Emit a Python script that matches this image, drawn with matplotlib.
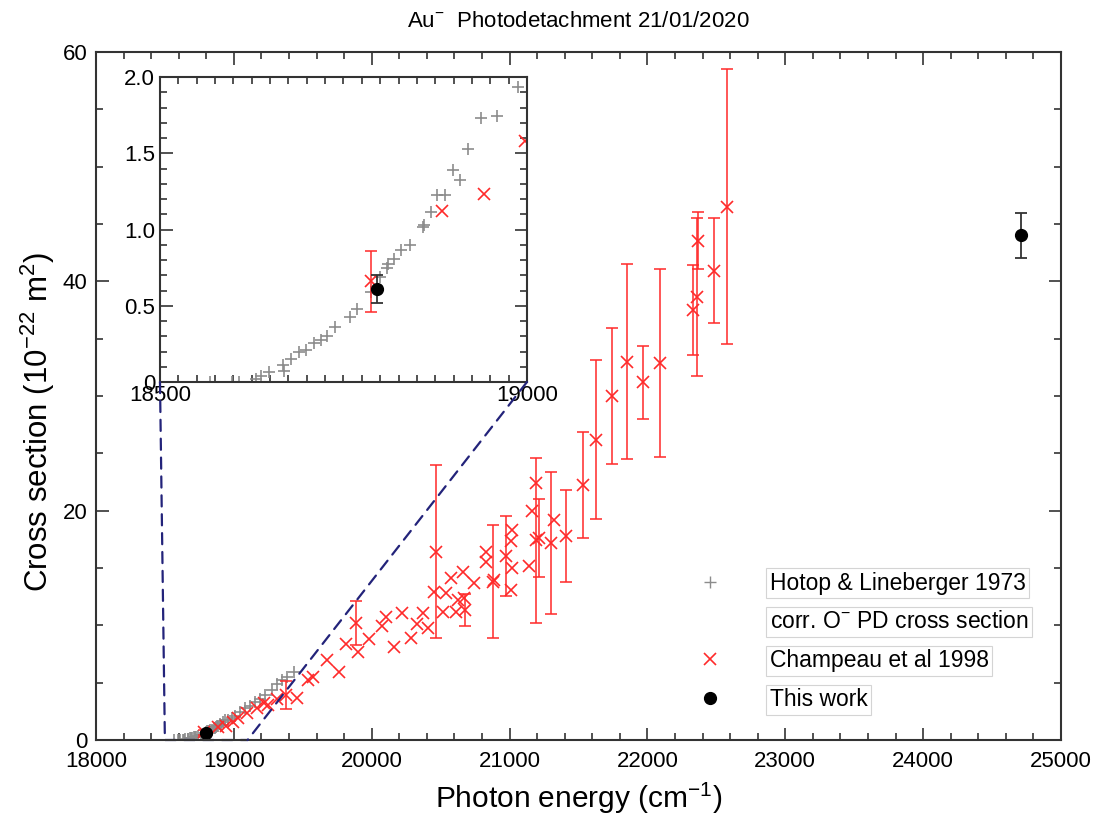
import numpy as np
import matplotlib
matplotlib.use("Agg")
import matplotlib.pyplot as plt
from matplotlib.lines import Line2D
from matplotlib.patches import ConnectionPatch
from matplotlib.ticker import MultipleLocator, FixedLocator

plt.rcParams["font.family"] = ["Liberation Sans", "DejaVu Sans"]
plt.rcParams["mathtext.default"] = "regular"

# Hotop & Lineberger 1973 (corr. O- PD cross section)
hl_energy = [18568, 18598, 18607, 18631, 18638, 18649, 18668, 18669, 18679, 18690,
             18699, 18710, 18719, 18728, 18738, 18759, 18769, 18788, 18800, 18809,
             18810, 18819, 18829, 18840, 18859, 18860, 18869, 18878, 18888, 18899,
             18909, 18919, 18938, 18959, 18988, 19011, 19047, 19084, 19120, 19156,
             19193, 19229, 19278, 19314, 19350, 19387, 19435]
hl_sigma = [0.0, 0.0, 0.0, 0.018, 0.039, 0.068, 0.111, 0.072, 0.149, 0.199,
            0.21, 0.258, 0.275, 0.302, 0.363, 0.428, 0.476, 0.592, 0.690, 0.745,
            0.773, 0.804, 0.866, 0.898, 1.018, 1.03, 1.116, 1.226, 1.226, 1.39,
            1.325, 1.528, 1.734, 1.747, 1.936, 2.05, 2.4, 2.75, 3.0, 3.3,
            3.6, 3.95, 4.4, 4.9, 5.2, 5.5, 5.95]

# Champeau et al 1998 (err = 0 -> no error bar drawn)
ch_energy = [18787, 18884, 18942, 18997, 19033, 19096, 19169, 19217, 19250, 19314,
             19375, 19460, 19540, 19576, 19678, 19762, 19811, 19884, 19900, 19980,
             20078, 20102, 20162, 20223, 20284, 20327, 20369, 20405, 20453, 20465,
             20514, 20538, 20575, 20611, 20623, 20660, 20671, 20676, 20744, 20829,
             20829, 20878, 20890, 20975, 21011, 21011, 21016, 21016, 21144, 21161,
             21193, 21193, 21215, 21302, 21326, 21411, 21532, 21629, 21743, 21855,
             21969, 22089, 22332, 22356, 22369, 22485, 22580]
ch_sigma = [0.66, 1.12, 1.23, 1.58, 1.90, 2.33, 2.76, 3.20, 3.05, 3.60,
            3.92, 3.64, 5.23, 5.52, 6.98, 5.90, 8.40, 10.2, 7.65, 8.80,
            9.90, 10.7, 8.08, 11.05, 8.87, 10.12, 11.08, 9.74, 12.93, 16.42,
            11.2, 12.8, 14.1, 11.2, 12.2, 14.65, 12.4, 11.34, 13.7, 16.42,
            15.55, 13.8, 13.95, 16.05, 17.38, 13.1, 14.97, 18.3, 15.2, 20.0,
            22.38, 17.4, 17.6, 17.2, 19.2, 17.8, 22.24, 26.2, 30.0, 33.0,
            31.2, 32.9, 37.5, 38.66, 43.54, 40.93, 46.5]
ch_err = [0.20, 0, 0, 0, 0, 0, 0, 0, 0, 0,
          1.25, 0, 0, 0, 0, 0, 0, 1.95, 0, 0,
          0, 0, 0, 0, 0, 0, 0, 0, 0, 7.55,
          0, 0, 0, 0, 0, 0, 0, 1.4, 0, 0,
          0, 4.94, 0, 3.5, 0, 0, 0, 0, 0, 0,
          0, 7.2, 3.4, 6.2, 0, 4.0, 4.6, 6.9, 5.93, 8.5,
          3.2, 8.2, 3.9, 6.9, 2.5, 4.6, 12.0]

# This work
tw_energy = [18795, 24713]
tw_sigma = [0.61, 44.0]
tw_err = [0.09, 2.0]

ZOOM_X = (18500, 19100)
INSET_XLIM = (18500, 19000)
INSET_YLIM = (0, 2.0)
INSET_YTICKS = [0, 0.5, 1.0, 1.5, 2.0]
INSET_YTICK_LABELS = ["0", "0.5", "1.0", "1.5", "2.0"]

GRAY = "#8c8c8c"
RED = "#ff2a2a"
NAVY = "#23237a"

ch_energy = np.array(ch_energy)
ch_sigma = np.array(ch_sigma)
ch_err = np.array(ch_err)
has_err = ch_err > 0


def draw_data(ax):
    ax.plot(hl_energy, hl_sigma, ls="none", marker="+", ms=8, mew=1.2, color=GRAY)
    ax.errorbar(ch_energy[has_err], ch_sigma[has_err], yerr=ch_err[has_err], fmt="none",
                ecolor=RED, elinewidth=1.3, capsize=4, capthick=1.3, alpha=0.85)
    ax.plot(ch_energy, ch_sigma, ls="none", marker="x", ms=8.5, mew=1.2, color=RED)
    ax.errorbar(tw_energy, tw_sigma, yerr=tw_err, fmt="o", ms=8.5, color="black",
                ecolor="#333333", elinewidth=1.3, capsize=4, capthick=1.3)


def style_ticks(ax):
    ax.tick_params(which="both", direction="in", top=True, right=True, labelsize=16,
                   width=1.2, color="#333333")
    ax.tick_params(which="major", length=9)
    ax.tick_params(which="minor", length=5)
    for sp in ax.spines.values():
        sp.set_linewidth(1.5)
        sp.set_color("#333333")


fig = plt.figure(figsize=(11.08, 8.21), dpi=100)
ax = fig.add_axes([0.0866, 0.0987, 0.871, 0.838])
draw_data(ax)
ax.set_xlim(18000, 25000)
ax.set_ylim(0, 60)
ax.xaxis.set_major_locator(MultipleLocator(1000))
ax.xaxis.set_minor_locator(MultipleLocator(200))
ax.yaxis.set_major_locator(MultipleLocator(20))
ax.yaxis.set_minor_locator(MultipleLocator(5))
style_ticks(ax)
ax.tick_params(axis="x", pad=8)
ax.tick_params(axis="y", pad=6)
ax.set_xlabel("Photon energy (cm$^{-1}$)", fontsize=21.5, labelpad=6)
ax.set_ylabel("Cross section (10$^{-22}$ m$^{2}$)", fontsize=22.5)
ax.yaxis.set_label_coords(-0.040, 0.462)
ax.set_title("Au$^{-}$  Photodetachment 21/01/2020", fontsize=16, pad=18)

# zoom indicator: dashed rectangle base + connectors
ax.plot(ZOOM_X, [0, 0], ls=(0, (5, 3.5)), color=NAVY, lw=1.6, clip_on=False)

# legend
handles = [Line2D([], [], ls="none", marker="+", ms=8, mew=1.0, color=GRAY),
           Line2D([], [], ls="none"),
           Line2D([], [], ls="none", marker="x", ms=8.5, mew=1.2, color=RED),
           Line2D([], [], ls="none", marker="o", ms=8.5, color="black")]
labels = ["Hotop & Lineberger 1973", "corr. O$^{-}$ PD cross section",
          "Champeau et al 1998", "This work"]
leg = ax.legend(handles, labels, loc="upper left", bbox_to_anchor=(0.615, 0.258),
                frameon=False, fontsize=16.5, handlelength=1.0, handletextpad=2.1,
                labelspacing=0.69, borderaxespad=0)
for t in leg.get_texts():
    t.set_bbox(dict(facecolor="white", edgecolor="#d4d4d4", lw=0.8, pad=2.5))

# inset
axin = fig.add_axes([0.1444, 0.5347, 0.3312, 0.3715])
draw_data(axin)
axin.set_xlim(*INSET_XLIM)
axin.set_ylim(*INSET_YLIM)
axin.xaxis.set_major_locator(FixedLocator(list(INSET_XLIM)))
axin.xaxis.set_minor_locator(MultipleLocator(25))
axin.set_yticks(INSET_YTICKS)
axin.set_yticklabels(INSET_YTICK_LABELS)
axin.yaxis.set_minor_locator(MultipleLocator(0.1))
style_ticks(axin)
axin.tick_params(axis="x", pad=2)

for corner, ex in ((0, ZOOM_X[0]), (1, ZOOM_X[1])):
    con = ConnectionPatch(xyA=(corner, 0), coordsA=axin.transAxes,
                          xyB=(ex, 0), coordsB=ax.transData,
                          ls=(0, (5, 3.5)), color=NAVY, lw=1.6)
    fig.add_artist(con)

fig.savefig("out.png", dpi=100)
